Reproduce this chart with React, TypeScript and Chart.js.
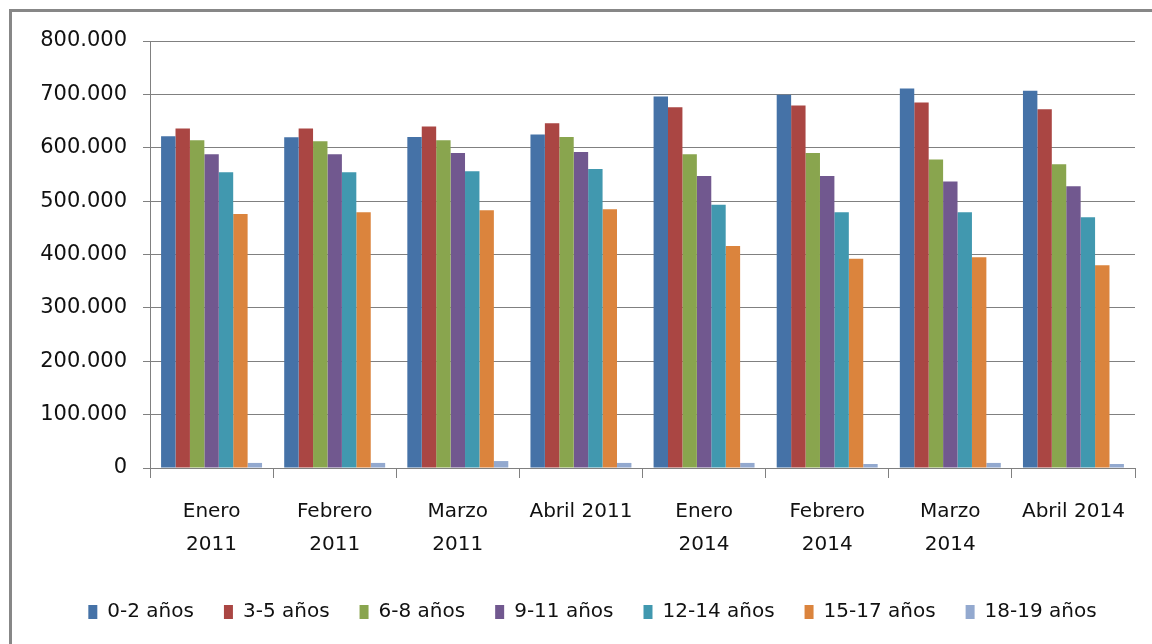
import React, { useEffect, useRef } from "react";
import { Chart, registerables } from "chart.js";

Chart.register(...registerables);

const categories: (string | string[])[] = [
  ["Enero", "2011"],
  ["Febrero", "2011"],
  ["Marzo", "2011"],
  "Abril 2011",
  ["Enero", "2014"],
  ["Febrero", "2014"],
  ["Marzo", "2014"],
  "Abril 2014",
];

const seriesNames = ["0-2 años", "3-5 años", "6-8 años", "9-11 años", "12-14 años", "15-17 años", "18-19 años"];
const seriesColors = ["#4572A7", "#AA4643", "#89A54E", "#71588F", "#4198AF", "#DB843D", "#93A9CF"];

const age0_2 = [621500, 619600, 620000, 625000, 696000, 699500, 711000, 707000];
const age3_5 = [636000, 636000, 640000, 646000, 676000, 679000, 685000, 672000];
const age6_8 = [614000, 612000, 614000, 620000, 588000, 590000, 578000, 569000];
const age9_11 = [588000, 588000, 590000, 592000, 547000, 547000, 537000, 528000];
const age12_14 = [554000, 554000, 556000, 560000, 493000, 479000, 479000, 470000];
const age15_17 = [476000, 479000, 483000, 485000, 416000, 392000, 395000, 380000];
const age18_19 = [9500, 9500, 13000, 9500, 9500, 7500, 9500, 7500];

const seriesValues = [age0_2, age3_5, age6_8, age9_11, age12_14, age15_17, age18_19];

const yTickMax = 800000;
const yTickStep = 100000;

function fmt(v: number): string {
  return String(Math.round(v)).replace(/\B(?=(\d{3})+(?!\d))/g, ".");
}

const legendShift = {
  id: "legendShift",
  afterLayout(chart: any) {
    if (chart.legend) {
      chart.legend.left += 50;
    }
  },
};

export default function App() {
  const ref = useRef<HTMLCanvasElement | null>(null);

  useEffect(() => {
    document.body.style.margin = "0";
    const ctx = ref.current!;
    const font = "'DejaVu Sans', sans-serif";
    const chart = new Chart(ctx, {
      type: "bar",
      data: {
        labels: categories,
        datasets: seriesNames.map((name, i) => ({
          label: name,
          data: seriesValues[i],
          backgroundColor: seriesColors[i],
          borderWidth: 0,
          categoryPercentage: 0.82,
          barPercentage: 1,
        })),
      },
      plugins: [legendShift],
      options: {
        animation: false,
        responsive: false,
        maintainAspectRatio: false,
        layout: { padding: { left: 0, right: 17, top: 41, bottom: 12 } },
        plugins: {
          tooltip: { enabled: false },
          legend: {
            position: "bottom",
            labels: {
              boxWidth: 9,
              boxHeight: 14,
              padding: 30,
              color: "#111",
              font: { family: font, size: 20 },
            },
          },
        },
        scales: {
          x: {
            afterFit: (s: any) => {
              s.height = 104;
            },
            grid: {
              drawOnChartArea: false,
              drawTicks: true,
              tickLength: 10,
              color: "#808080",
              offset: true,
            },
            border: { display: true, color: "#808080", width: 1 },
            ticks: {
              color: "#111",
              font: { family: font, size: 20, lineHeight: 1.65 },
              padding: 17,
              maxRotation: 0,
              autoSkip: false,
            },
          },
          y: {
            min: 0,
            max: yTickMax,
            afterFit: (s: any) => {
              s.width = 150;
            },
            grid: {
              color: "#808080",
              lineWidth: 1,
              tickLength: 7,
            },
            border: { display: true, color: "#808080", width: 1 },
            ticks: {
              stepSize: yTickStep,
              color: "#111",
              padding: 16,
              font: { family: font, size: 21 },
              callback: (v: any) => fmt(Number(v)),
            },
          },
        },
      },
    });
    return () => chart.destroy();
  }, []);

  return (
    <div style={{ position: "fixed", left: 0, top: 0, width: 1152, height: 644, background: "#fff", overflow: "hidden" }}>
      <div style={{ position: "absolute", left: 9, top: 9, width: 1143, height: 3, background: "#878787" }} />
      <div style={{ position: "absolute", left: 9, top: 9, width: 3, height: 635, background: "#878787" }} />
      <canvas ref={ref} width={1152} height={644} style={{ position: "absolute", left: 0, top: 0 }} />
    </div>
  );
}
